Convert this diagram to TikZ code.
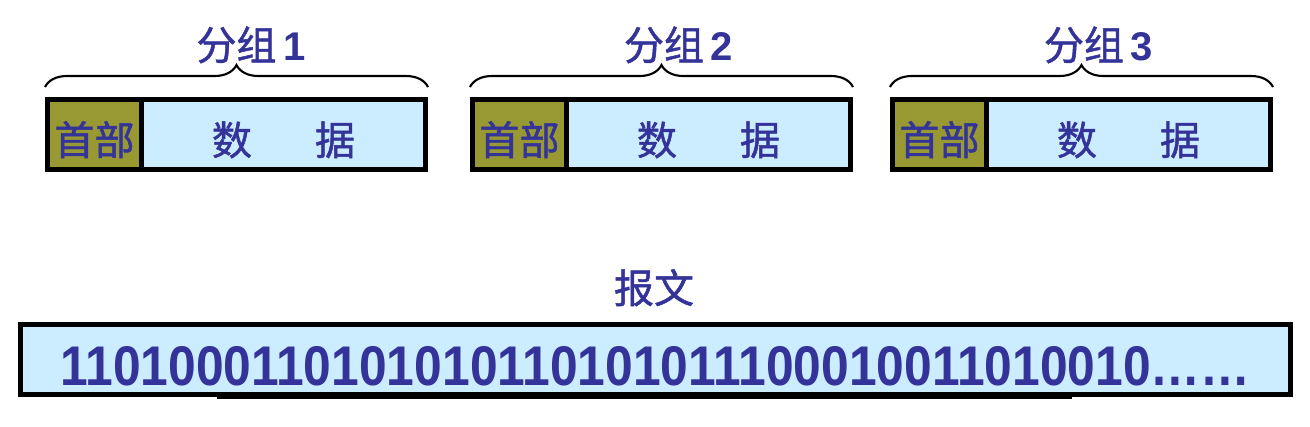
\documentclass[tikz,border=0pt]{standalone}
\usepackage{fontspec}
\usepackage{graphicx}
\setmainfont{Liberation Sans}
\newfontfamily\cjk[FakeBold=1.2]{Noto Sans CJK SC}
\usepackage{tikz}
\usetikzlibrary{positioning,decorations.pathreplacing}
\definecolor{headolive}{RGB}{153,153,51}
\definecolor{datablue}{RGB}{204,236,255}
\definecolor{textblue}{RGB}{51,51,153}
\tikzset{
  headbox/.style={draw=black, line width=0.05cm, fill=headolive, outer sep=0pt, inner sep=0pt,
    minimum width=0.94cm, minimum height=0.70cm, text height=0.41cm, text depth=0pt,
    text=textblue, font=\cjk\fontsize{11.4}{12}\selectfont},
  databox/.style={headbox, fill=datablue, minimum width=2.84cm},
  msgbox/.style={headbox, fill=datablue, minimum width=12.70cm, text height=0.51cm,
    font=\bfseries\fontsize{15.9}{16}\selectfont},
  grouplabel/.style={text=textblue, anchor=base, inner sep=0pt, font=\fontsize{11.4}{12}\selectfont},
  groupbrace/.style={decorate, decoration={brace, amplitude=0.22cm}, line width=0.6pt}
}
\begin{document}
\begin{tikzpicture}
            \useasboundingbox (0,0) rectangle (13.1,4.26);

            % Packets
            \node[headbox, anchor=west] (h1) at (0.475,2.915) {首部};
            \node[databox, right=0pt of h1] (d1) {数\hspace{0.63cm}据};
            \node[headbox, anchor=west] (h2) at (4.725,2.915) {首部};
            \node[databox, right=0pt of h2] (d2) {数\hspace{0.63cm}据};
            \node[headbox, anchor=west] (h3) at (8.925,2.915) {首部};
            \node[databox, right=0pt of h3] (d3) {数\hspace{0.63cm}据};

            \draw[groupbrace] ([xshift=-0.025cm,yshift=0.125cm]h1.north west) -- ([xshift=0.025cm,yshift=0.125cm]d1.north east);
            \draw[groupbrace] ([xshift=-0.025cm,yshift=0.125cm]h2.north west) -- ([xshift=0.025cm,yshift=0.125cm]d2.north east);
            \draw[groupbrace] ([xshift=-0.025cm,yshift=0.125cm]h3.north west) -- ([xshift=0.025cm,yshift=0.125cm]d3.north east);

            \node[grouplabel] (g1) at (2.51,3.66) {{\cjk 分组}\,\textbf{1}};
            \node[grouplabel] (g2) at (6.785,3.66) {{\cjk 分组}\,\textbf{2}};
            \node[grouplabel] (g3) at (10.985,3.66) {{\cjk 分组}\,\textbf{3}};

            % Message
            \node[grouplabel, font=\cjk\fontsize{11.4}{12}\selectfont] (msglabel) at (6.54,1.23) {报文};
            \node[msgbox] (msg) at (6.555,0.665) {\resizebox{11.9cm}{\height}{1101000110101010110101011100010011010010……}};
            \draw[line width=0.03cm] (2.17,0.285) -- (10.72,0.285);
        \end{tikzpicture}
\end{document}
